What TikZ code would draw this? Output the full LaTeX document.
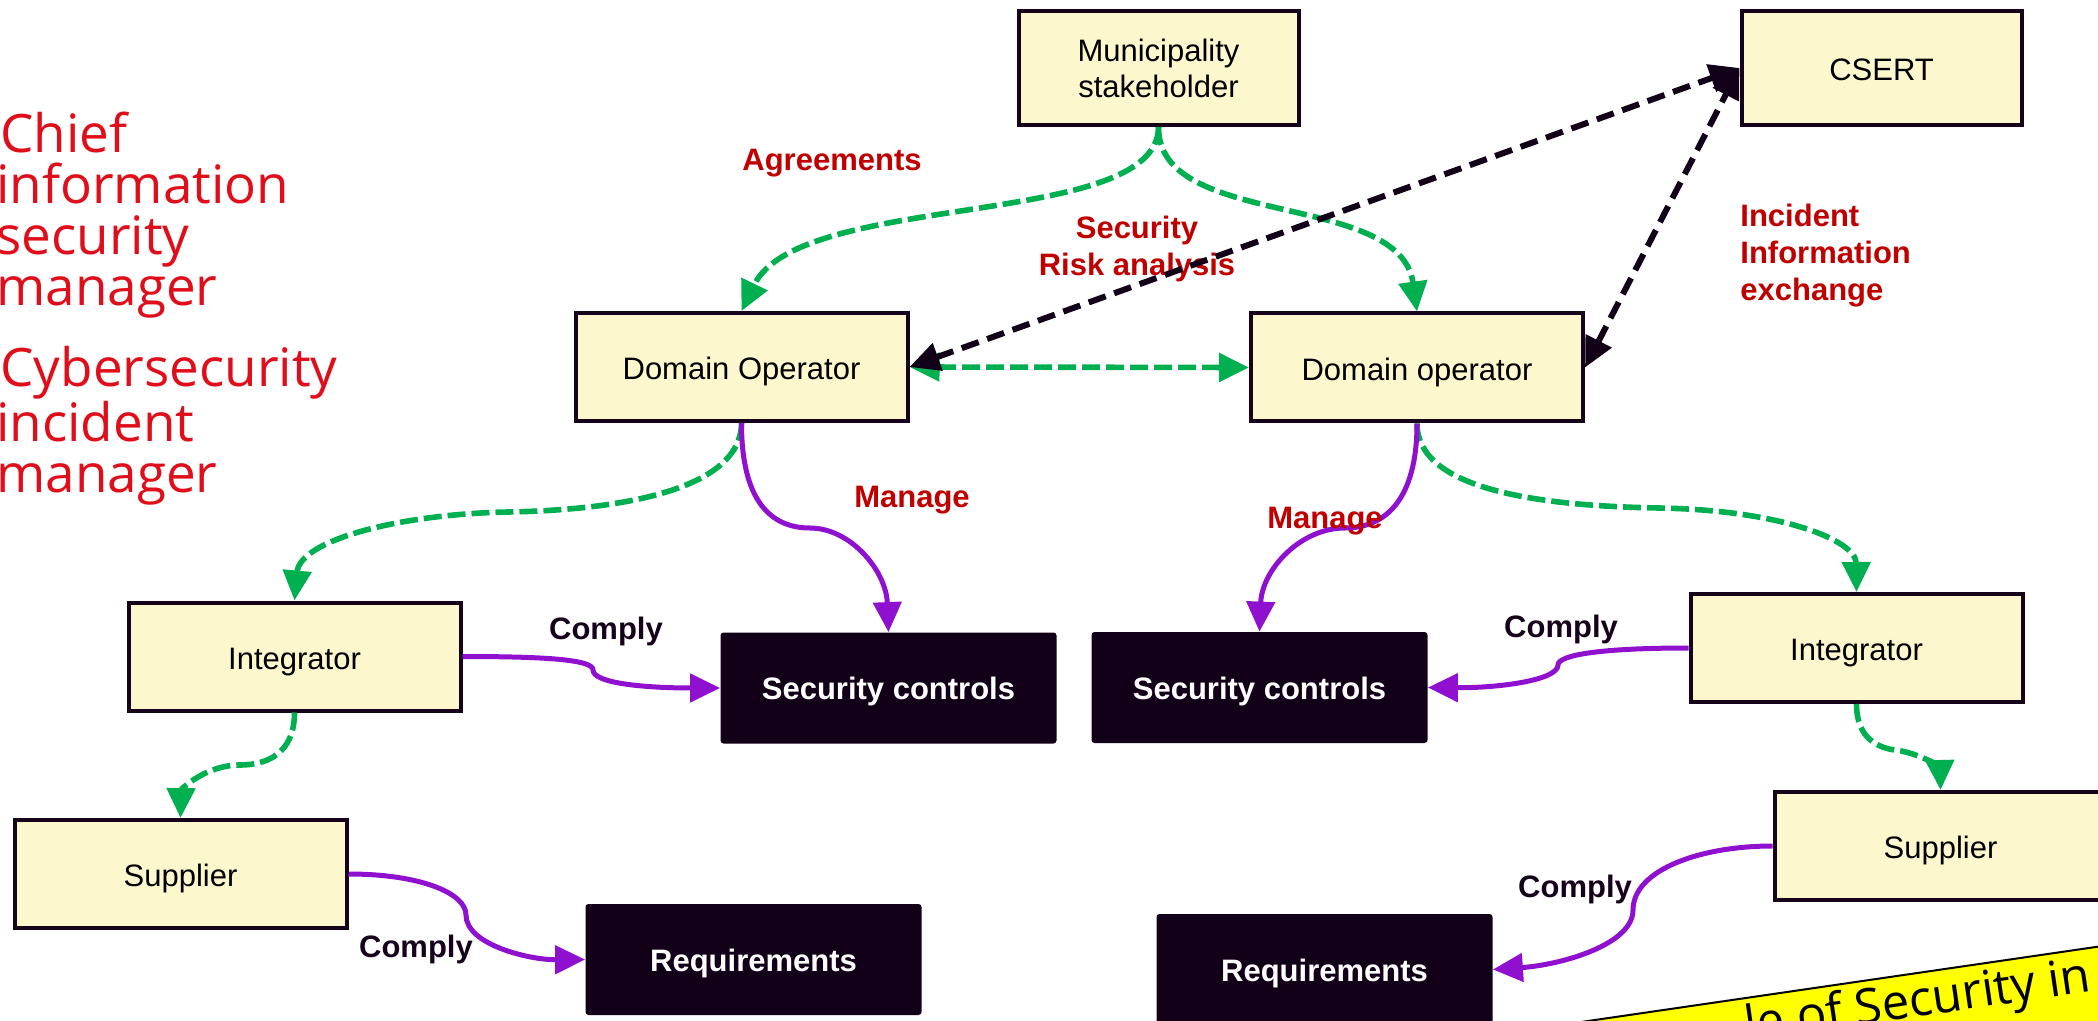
\documentclass[tikz,border=0pt]{standalone}
\usepackage{fontspec}
\setmainfont{Liberation Sans}
\newfontfamily\opensans{Open Sans}
\usepackage{xcolor}
\usetikzlibrary{arrows.meta,positioning}

\definecolor{boxfill}{RGB}{253,247,206}
\definecolor{boxline}{RGB}{22,2,26}
\definecolor{ctrlfill}{RGB}{18,0,24}
\definecolor{agreegreen}{RGB}{0,176,80}
\definecolor{managepurple}{RGB}{144,16,208}
\definecolor{labelred}{RGB}{192,0,0}
\definecolor{rolered}{RGB}{224,14,26}
\definecolor{bannerfill}{RGB}{255,255,0}

\begin{document}
\begin{tikzpicture}[x=0.5pt, y=-0.5pt,
    actor/.style={draw=boxline, fill=boxfill, line width=2pt, minimum width=166pt, minimum height=54pt, text height=14pt, text depth=1.5pt, align=center, font=\fontsize{15.5}{18}\selectfont},
    ctrlbox/.style={fill=ctrlfill, rounded corners=1.5pt, minimum width=168pt, minimum height=55.5pt, text height=13pt, text depth=1.5pt, text=white, font=\bfseries\fontsize{15.5}{18}\selectfont},
    agree/.style={draw=agreegreen, line width=2.8pt, dash pattern=on 9pt off 3pt, -{Triangle[length=15pt,width=14pt]}},
    incident/.style={draw=ctrlfill, line width=3pt, dash pattern=on 9pt off 4.5pt, {Triangle[length=15pt,width=14pt]}-{Triangle[length=15pt,width=14pt]}},
    manage/.style={draw=managepurple, line width=2.5pt, -{Triangle[length=15pt,width=14pt]}},
    redlabel/.style={inner sep=0pt, text=labelred, font=\bfseries\fontsize{15.5}{18.5}\selectfont},
    blacklabel/.style={inner sep=0pt, text=boxline, font=\bfseries\fontsize{15.5}{18.5}\selectfont},
    rolelabel/.style={inner sep=0pt, anchor=west, align=left, text=rolered, font=\opensans\fontsize{26.5}{25.5}\selectfont},
    banner/.style={inner sep=0pt, anchor=base east, rotate=8.3, font=\opensans\fontsize{24.5}{29}\selectfont}]
    \useasboundingbox (0,0) rectangle (2098,1021);
    \clip (0,0) rectangle (2098,1021);

    % roles
    \node [rolelabel] (ciso) at (-4,215) {\kern2pt Chief\\information\\security\\manager};
    \node [rolelabel] (csim) at (-4,426) {\kern2pt Cybersecurity\\incident\\manager};

    % stakeholders
    \node [actor, minimum width=140pt, minimum height=57pt, text height={}, text depth={}] (muni) at (1158.5,68) {Municipality\\stakeholder};
    \node [actor, minimum width=140pt, minimum height=57pt] (csert) at (1881.5,68) {CSERT};
    \node [actor] (dopL) at (741.5,367) {Domain Operator};
    \node [actor] (dopR) at (1417,367.5) {Domain operator};
    \node [actor] (intL) at (294.5,656.5) {Integrator};
    \node [actor] (intR) at (1856.5,648) {Integrator};
    \node [actor] (supL) at (180.5,874) {Supplier};
    \node [actor] (supR) at (1940.5,846) {Supplier};

    % controls
    \node [ctrlbox] (secL) at (888.5,688) {Security controls};
    \node [ctrlbox] (secR) at (1259.5,687.5) {Security controls};
    \node [ctrlbox] (reqL) at (753.5,959.5) {Requirements};
    \node [ctrlbox] (reqR) at (1324.5,969.5) {Requirements};

    \node [redlabel, align=center] (risk) at (1137,249) {Security\\Risk analysis};

    % agreements
    \draw [agree] (muni.south) .. controls (1158,230) and (800,190) .. (dopL.north);
    \draw [agree] (muni.south) .. controls (1158,230) and (1400,190) .. (dopR.north);
    \draw [agree, {Triangle[length=15pt,width=14pt]}-{Triangle[length=15pt,width=14pt]}] (dopL.east) -- (dopR.west);
    \draw [agree] (dopL.south) .. controls (741,490) and (620,510) .. (508,512) .. controls (400,514) and (300,540) .. (intL.north);
    \draw [agree] (dopR.south) .. controls (1417,490) and (1540,506) .. (1659,508) .. controls (1780,510) and (1856,540) .. (intR.north);
    \draw [agree] (intL.south) .. controls (294.5,755) and (265,765) .. (240,765) .. controls (205,765) and (181,790) .. (supL.north);
    \draw [agree] (intR.south) .. controls (1856.5,740) and (1880,748) .. (1895,750) .. controls (1925,754) and (1940,770) .. (supR.north);

    % incident information exchange
    \draw [incident] (dopL.east) -- (csert.west);
    \draw [incident] (dopR.east) -- (csert.west);

    % manage
    \draw [manage] (dopL.south) .. controls (741.5,500) and (770,528) .. (810,528) .. controls (850,528) and (886,570) .. (secL.north);
    \draw [manage] (dopR.south) .. controls (1417,500) and (1385,528) .. (1345,528) .. controls (1300,528) and (1262,570) .. (secR.north);

    % comply
    \draw [manage] (intL.east) .. controls (550,656.5) and (593,660) .. (593,670) .. controls (593,684) and (650,688) .. (secL.west);
    \draw [manage] (intR.west) .. controls (1600,648) and (1558,655) .. (1558,665) .. controls (1558,680) and (1500,688) .. (secR.east);
    \draw [manage] (supL.east) .. controls (420,874) and (466,893) .. (466,915) .. controls (466,945) and (530,960) .. (reqL.west);
    \draw [manage] (supR.west) .. controls (1700,846) and (1633,870) .. (1633,910) .. controls (1633,945) and (1560,965) .. (reqR.east);

    % labels
    \node [redlabel] (agreelbl) at (832,163.5) {Agreements};
    \node [redlabel, align=left, anchor=west] (incidentlbl) at (1740,256) {Incident\\Information\\exchange};
    \node [redlabel] (manageL) at (912,500) {Manage};
    \node [redlabel] (manageR) at (1325,521) {Manage};
    \node [blacklabel] (complyA) at (606,631) {Comply};
    \node [blacklabel] (complyB) at (1561,629) {Comply};
    \node [blacklabel] (complyC) at (416,949) {Comply};
    \node [blacklabel] (complyD) at (1575,889) {Comply};

    % banner
    \filldraw [draw=black, line width=1pt, fill=bannerfill] (1540,1028) -- (2200,931.8) -- (2230,1100) -- (1570,1200) -- cycle;
    \node [banner] (bannertext) at (2093,991) {le of Security in};
\end{tikzpicture}
\end{document}
